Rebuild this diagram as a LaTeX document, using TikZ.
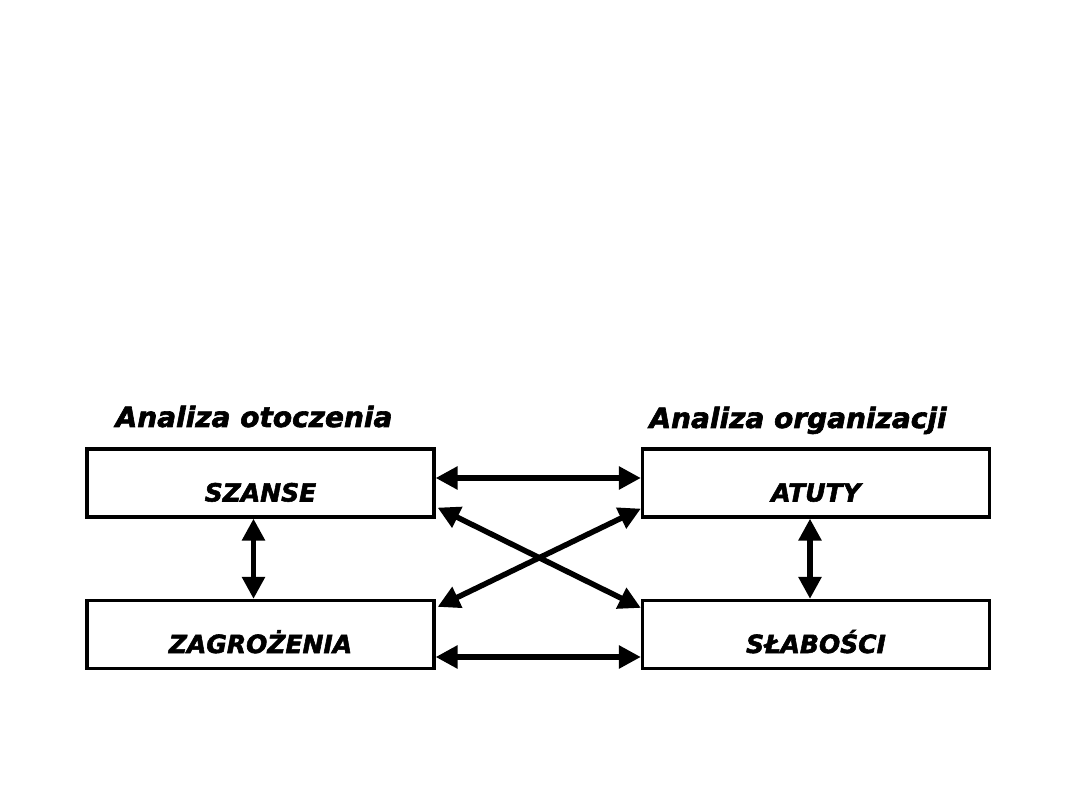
\documentclass[tikz,border=0pt]{standalone}
\usepackage{fontspec}
\setmainfont{DejaVu Sans}[BoldFont={DejaVu Sans Bold},ItalicFont={DejaVu Sans Oblique},BoldItalicFont={DejaVu Sans Bold Oblique},BoldItalicFeatures={FakeBold=2.2}]
\usetikzlibrary{arrows.meta}
\begin{document}
\begin{tikzpicture}[x=1pt,y=-1pt,
  boxnode/.style={draw=black,line width=3.2pt,minimum width=347pt,minimum height=68pt,inner sep=0pt,
    font=\fontsize{25}{25}\selectfont\bfseries\itshape,text height=37pt,text depth=0pt},
  titlenode/.style={anchor=base,inner sep=0pt,font=\fontsize{28}{28}\selectfont\bfseries\itshape},
  biarrow/.style={line width=5.5pt,{Triangle[length=22pt,width=22pt]}-{Triangle[length=22pt,width=22pt]}}]
\useasboundingbox (0,0) rectangle (1080,810);
\node[titlenode] (t1) at (254,427) {Analiza otoczenia};
\node[titlenode] (t2) at (798,428) {Analiza organizacji};
\node[boxnode] (sz) at (260.5,483) {SZANSE};
\node[boxnode] (at) at (816,483) {ATUTY};
\node[boxnode] (za) at (260.5,634.5) {ZAGROŻENIA};
\node[boxnode] (sl) at (816,634.5) {SŁABOŚCI};
\draw[biarrow] ([yshift=5pt]sz.east) -- ([yshift=5pt]at.west);
\draw[biarrow] ([yshift=-22.5pt]za.east) -- ([yshift=-22.5pt]sl.west);
\draw[biarrow] ([xshift=-7pt]sz.south) -- ([xshift=-7pt]za.north);
\draw[biarrow] ([xshift=-6pt]at.south) -- ([xshift=-6pt]sl.north);
\draw[biarrow] ([xshift=2pt,yshift=11pt]sz.south east) -- ([yshift=-9pt]sl.north west);
\draw[biarrow] ([xshift=2pt,yshift=-8pt]za.north east) -- ([yshift=10pt]at.south west);
\end{tikzpicture}
\end{document}
